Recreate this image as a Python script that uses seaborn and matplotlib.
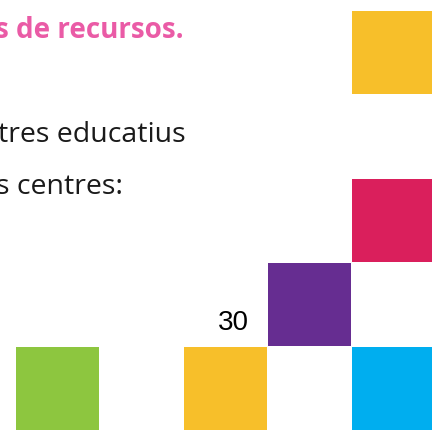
import numpy as np
import pandas as pd
import seaborn as sns
import matplotlib.pyplot as plt
from matplotlib.colors import ListedColormap

# squares of the grid (row 0 = top), one colour each
square_rows = [0, 2, 3, 4, 4, 4]
square_cols = [4, 4, 3, 0, 2, 4]
square_colors = ["#F7BF2A", "#DA1F5C", "#662D91", "#8DC63F", "#F7BF2A", "#00AEEF"]
n_rows, n_cols = 5, 5

# texts
title_text = "s de recursos."
line1_text = "tres educatius"
line2_text = "s centres:"
value_label = "30"

# build grid: each filled cell gets the index of its colour, empty cells are NaN
grid = np.full((n_rows, n_cols), np.nan)
for i, (r, c) in enumerate(zip(square_rows, square_cols)):
    grid[r, c] = i
df = pd.DataFrame(grid)

W, H = 432, 433
fig = plt.figure(figsize=(W / 100, H / 100), dpi=100)
sns.set_style("white")

# grid of 84px cells, partly outside the figure on the right
ax = fig.add_axes([14.5 / W, 3 / H, 420 / W, 420 / H])
sns.heatmap(df, ax=ax, cmap=ListedColormap(square_colors), vmin=-0.5,
            vmax=len(square_colors) - 0.5, cbar=False, mask=df.isna(),
            linewidths=0.6, linecolor="white")
ax.set_xticks([])
ax.set_yticks([])
ax.set_xlabel("")
ax.set_ylabel("")
for s in ax.spines.values():
    s.set_visible(False)

def px(x, y):
    return x / W, 1 - y / H

fig.text(*px(184, 38), title_text, ha="right", va="baseline",
         fontsize=20, fontweight="bold", color="#EA5BA6", family="Open Sans")
fig.text(*px(185.5, 142), line1_text, ha="right", va="baseline",
         fontsize=20.5, color="#1a1a1a", family="Open Sans")
fig.text(*px(123, 193.5), line2_text, ha="right", va="baseline",
         fontsize=20.5, color="#1a1a1a", family="Open Sans")
fig.text(*px(248.5, 330), value_label, ha="right", va="baseline",
         fontsize=20, color="black", family="Liberation Sans")

fig.savefig("out.png", dpi=100)
